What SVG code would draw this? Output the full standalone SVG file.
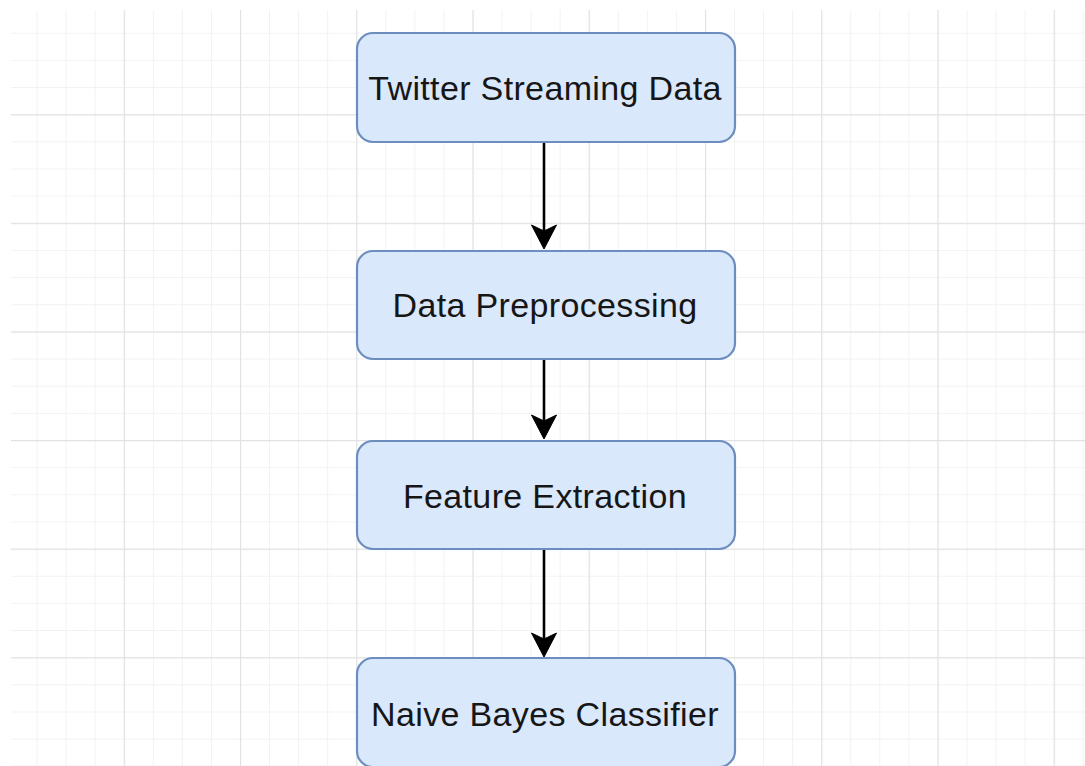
<svg xmlns="http://www.w3.org/2000/svg" width="1085" height="766" viewBox="0 0 1085 766">
  <defs>
    <pattern id="minor" x="7.5" y="5.6" width="29.06" height="27.15" patternUnits="userSpaceOnUse">
      <path d="M0.5,0 V27.15 M0,0.5 H29.06" fill="none" stroke="#f2f2f2" stroke-width="1"/>
    </pattern>
    <pattern id="major" x="7.5" y="5.6" width="116.25" height="108.6" patternUnits="userSpaceOnUse">
      <path d="M0.5,0 V108.6 M0,0.5 H116.25" fill="none" stroke="#e2e2e2" stroke-width="1.3"/>
    </pattern>
    <clipPath id="sheet">
      <rect x="11" y="10" width="1074" height="756"/>
    </clipPath>
  </defs>
  <style>
    .box { fill: #dae8fc; stroke: #6c8ebf; stroke-width: 2.2; }
    .label { font-family: "Liberation Sans", Arial, sans-serif; font-size: 34px; letter-spacing: 0.35px; fill: #161616; text-anchor: middle; }
    .edge { stroke: #000; stroke-width: 2.6; fill: none; }
    .head { fill: #000; stroke: #000; stroke-width: 1; stroke-linejoin: miter; }
  </style>

  <rect width="1085" height="766" fill="#ffffff"/>
  <g clip-path="url(#sheet)">
    <rect x="11" y="10" width="1074" height="756" fill="url(#minor)"/>
    <rect x="11" y="10" width="1074" height="756" fill="url(#major)"/>
  </g>

  <g id="connectors">
    <line class="edge" x1="544" y1="142" x2="544" y2="232"/>
    <path class="head" d="M544,249 L531.5,225 L544,231 L556.5,225 Z"/>
    <line class="edge" x1="544" y1="359" x2="544" y2="422"/>
    <path class="head" d="M544,439 L531.5,415 L544,421 L556.5,415 Z"/>
    <line class="edge" x1="544" y1="549" x2="544" y2="640"/>
    <path class="head" d="M544,657 L531.5,633 L544,639 L556.5,633 Z"/>
  </g>

  <g id="twitter-streaming-data">
    <rect class="box" x="357" y="33" width="378" height="109" rx="16" ry="16"/>
    <text class="label" x="545" y="100">Twitter Streaming Data</text>
  </g>
  <g id="data-preprocessing">
    <rect class="box" x="357" y="251" width="378" height="108" rx="16" ry="16"/>
    <text class="label" x="545" y="317">Data Preprocessing</text>
  </g>
  <g id="feature-extraction">
    <rect class="box" x="357" y="441" width="378" height="108" rx="16" ry="16"/>
    <text class="label" x="545" y="508">Feature Extraction</text>
  </g>
  <g id="naive-bayes-classifier">
    <rect class="box" x="357" y="658" width="378" height="109" rx="16" ry="16"/>
    <text class="label" x="545" y="726">Naive Bayes Classifier</text>
  </g>
</svg>
